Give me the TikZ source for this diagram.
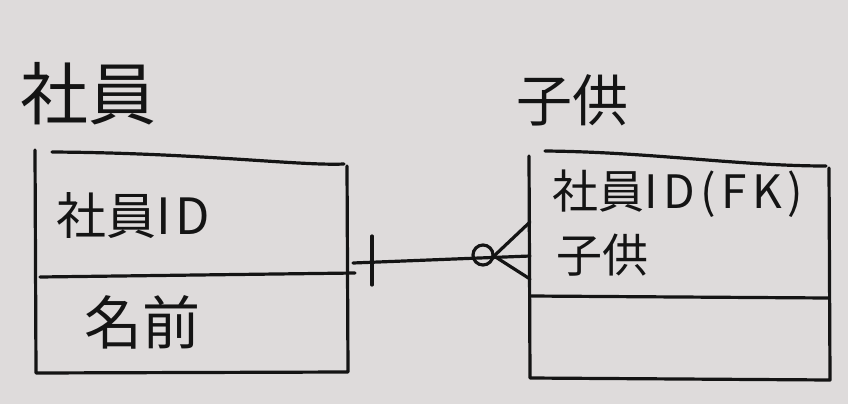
\documentclass[tikz,border=0pt]{standalone}
\usepackage{fontspec}
\setmainfont{Noto Sans CJK JP}
\definecolor{board}{RGB}{222,219,219}
\definecolor{ink}{RGB}{20,20,20}
\tikzset{
  pen/.style={line width=3.2pt, line cap=round, line join=round, ink},
  label/.style={anchor=west, inner sep=0pt, text=ink},
}
\begin{document}
\begin{tikzpicture}[x=1pt,y=-1pt]
\fill[board] (0,0) rectangle (848,404);
\useasboundingbox (0,0) rectangle (848,404);
% titles
\node[label, font=\fontsize{68}{68}\selectfont] (t1) at (20,94) {社員};
\node[label, font=\fontsize{56}{56}\selectfont] (t2) at (516,100) {子供};
% left entity box
\draw[pen] (35,150) -- (36,373) -- (348,372) -- (347,166);
\draw[pen] (52,152) .. controls (200,153) and (300,166) .. (344,164);
\draw[pen] (40,277) -- (355,273);
\coordinate (L) at (353,263);
\node[label, font=\fontsize{50}{50}\selectfont] (a1) at (56,216) {社員{\addfontfeature{LetterSpace=10}ID}};
\node[label, font=\fontsize{58}{58}\selectfont] (a2) at (84,322) {名前};
% right entity box
\draw[pen] (529,156) -- (530,378) -- (830,380) -- (829,168);
\draw[pen] (545,151) .. controls (650,152) and (740,166) .. (826,166);
\draw[pen] (530,296) -- (828,298);
\coordinate (R) at (530,256);
\node[label, font=\fontsize{46}{46}\selectfont] (b1) at (552,194) {社員{\addfontfeature{LetterSpace=12}ID(FK)}};
\node[label, font=\fontsize{46}{46}\selectfont] (b2) at (556,255) {子供};
% relationship
\draw[pen] (L) -- (R);
\draw[pen] ([xshift=19pt,yshift=-22pt]L) -- ([xshift=19pt,yshift=27pt]L);
\draw[pen] (483,255) circle[radius=10];
\draw[pen] (494,256) -- ([yshift=-23pt]R);
\draw[pen] (494,256) -- ([yshift=34pt]R);
\end{tikzpicture}
\end{document}
